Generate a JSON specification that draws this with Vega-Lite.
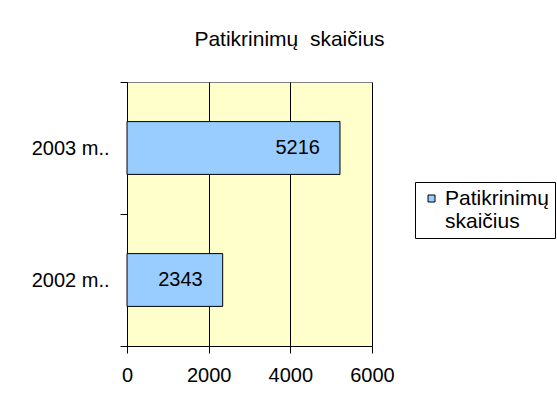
{
  "$schema": "https://vega.github.io/schema/vega-lite/v6.json",
  "width": 245,
  "height": 264,
  "autosize": {"type": "none"},
  "padding": {"left": 127, "top": 82, "right": 185, "bottom": 59},
  "background": "white",
  "title": {
    "text": "Patikrinimų\u00a0 skaičius",
    "anchor": "middle",
    "dx": 40,
    "offset": 5,
    "baseline": "alphabetic",
    "font": "Liberation Sans",
    "fontSize": 21,
    "fontWeight": "normal",
    "color": "black"
  },
  "config": {
    "font": "Liberation Sans",
    "view": {"fill": "#FFFFCC", "stroke": "#808080", "strokeWidth": 1}
  },
  "data": {
    "values": [
      {"year": "2003 m..", "count": 5216, "series": "Patikrinimų skaičius"},
      {"year": "2002 m..", "count": 2343, "series": "Patikrinimų skaičius"}
    ]
  },
  "encoding": {
    "y": {
      "field": "year",
      "type": "nominal",
      "sort": ["2003 m..", "2002 m.."],
      "scale": {"paddingInner": 0, "paddingOuter": 0},
      "axis": {
        "title": null,
        "tickBand": "extent",
        "labelFontSize": 20,
        "labelColor": "black",
        "labelPadding": 11,
        "tickSize": 7,
        "tickColor": "black",
        "domainColor": "black",
        "grid": false
      }
    },
    "x": {
      "field": "count",
      "type": "quantitative",
      "scale": {"domain": [0, 6000], "nice": false},
      "axis": {
        "title": null,
        "values": [0, 2000, 4000, 6000],
        "labelFontSize": 20,
        "labelColor": "black",
        "labelPadding": 12,
        "labelFlush": false,
        "tickSize": 7,
        "tickColor": "black",
        "domainColor": "black",
        "grid": true,
        "gridColor": "black",
        "gridOpacity": 1,
        "format": "d"
      }
    }
  },
  "layer": [
    {
      "mark": {"type": "bar", "height": {"band": 0.4}, "stroke": "black", "strokeWidth": 1},
      "encoding": {
        "color": {
          "field": "series",
          "type": "nominal",
          "scale": {"range": ["#99CCFF"]},
          "legend": {
            "title": null,
            "orient": "none",
            "legendX": 288,
            "legendY": 100,
            "symbolType": "square",
            "symbolSize": 49,
            "symbolStrokeColor": "black",
            "symbolStrokeWidth": 1,
            "symbolFillColor": "#99CCFF",
            "labelFontSize": 21,
            "labelColor": "black",
            "labelExpr": "['Patikrinimų', 'skaičius']",
            "labelLimit": 200,
            "labelOffset": 3,
            "strokeColor": "black",
            "fillColor": "white",
            "padding": 6
          }
        }
      }
    },
    {
      "mark": {"type": "text", "align": "right", "baseline": "middle", "dx": -20, "fontSize": 20, "color": "black"},
      "encoding": {
        "text": {"field": "count", "type": "quantitative", "format": "d"}
      }
    }
  ]
}
